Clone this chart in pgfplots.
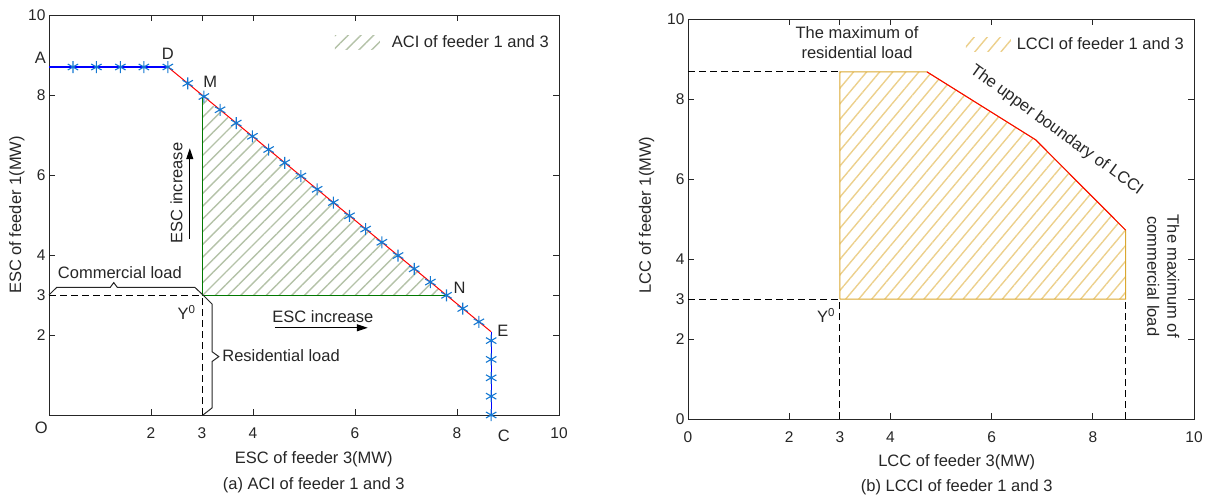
\documentclass[border=0pt]{standalone}
\usepackage{pgfplots}
\pgfplotsset{compat=1.18}
\usepackage{fontspec}
\setmainfont{Liberation Sans}
\usetikzlibrary{patterns.meta,arrows.meta}
\definecolor{hatchG}{RGB}{180,194,168}
\definecolor{edgeG}{RGB}{0,120,0}
\definecolor{hatchY}{RGB}{236,208,140}
\definecolor{edgeY}{RGB}{218,168,48}
\definecolor{starc}{RGB}{20,120,210}
\definecolor{axc}{RGB}{38,38,38}
\definecolor{bline}{RGB}{0,0,255}
\newcommand{\fs}{\fontsize{16.5}{20}\selectfont}
\pgfplotsset{
 mystyle/.style={
  scale only axis, height=400pt,
  xmin=0,xmax=10,ymin=0,ymax=10,
  axis line style={axc, line width=0.8pt},
  tick style={axc, line width=0.8pt},
  major tick length=6pt,
  tick align=inside,
  ticklabel style={font=\fontsize{15.5}{18}\selectfont, text=axc},
  xticklabel style={yshift=-9pt},
  /pgf/number format/assume math mode=true,
  clip=false,
  label style={font=\fs, text=axc},
  ylabel style={anchor=center, rotate=0},
  xlabel style={anchor=center},
  legend style={draw=none, fill=none, font=\fs, text=axc, anchor=east},
  legend cell align=left,
  every axis plot/.append style={line width=1pt},
 }
}
\begin{document}
\begin{tikzpicture}
\useasboundingbox (0,0) rectangle (1215pt,-498pt);
% ---------------- left ----------------
\begin{axis}[mystyle, width=510pt, at={(49pt,-415pt)}, anchor=south west,
  xtick={2,3,4,6,8,10}, ytick={2,3,4,6,8,10},
  xlabel={ESC of feeder 3(MW)}, ylabel={ESC of feeder 1(MW)},
  xlabel style={at={(axis description cs:0.519,-0.11)}},
  ylabel style={at={(axis description cs:-0.063,0.5)}},
  legend style={at={(axis description cs:0.99,0.9325)}},
]
\addplot[draw=none, pattern={Lines[angle=45,distance=9pt,line width=1.4pt]}, pattern color=hatchG,
  legend image code/.code={\fill[pattern={Lines[angle=45,distance=9pt,line width=1.4pt]}, pattern color=hatchG] (0pt,-7pt) rectangle (45pt,7pt); \path (55pt,0pt);}]
  coordinates {(3,3) (3,7.962) (7.795,2.993)} -- cycle;
\addlegendentry{ACI of feeder 1 and 3}
\addplot[edgeG, forget plot] coordinates {(3,7.962) (3,3) (7.795,3)};
% dashed
\addplot[black, dash pattern=on 7pt off 4pt, forget plot] coordinates {(0,3) (3,3)};
\addplot[black, dash pattern=on 7pt off 4pt, forget plot] coordinates {(3,0) (3,3)};
% braces
\addplot[axc, forget plot] coordinates {(0,3) (0.15,3.19) (1.2,3.19) (1.27,3.31) (1.34,3.19) (2.86,3.19) (3.02,3.0)};
\addplot[axc, forget plot] coordinates {(3.02,3) (3.2,2.77) (3.2,1.58) (3.33,1.46) (3.2,1.34) (3.2,0.18) (3.02,0)};
% boundary lines
\addplot[bline, line width=1.2pt, forget plot] coordinates {(0,8.7) (2.33,8.7)};
\addplot[red, forget plot] coordinates {(2.33,8.7) (8.67,2.08)};
\addplot[bline, line width=1.2pt, forget plot] coordinates {(8.67,2.08) (8.67,0)};
% stars
\addplot[only marks, mark=asterisk, mark size=6pt, starc, mark options={line width=1.1pt}, forget plot] coordinates {
 (0.47,8.7) (0.93,8.7) (1.40,8.7) (1.86,8.7) (2.33,8.7)
 (2.720,8.293) (3.037,7.962) (3.354,7.631) (3.672,7.299) (3.989,6.968)
 (4.306,6.637) (4.623,6.306) (4.940,5.975) (5.258,5.643) (5.575,5.312)
 (5.892,4.980) (6.209,4.649) (6.526,4.318) (6.844,3.987) (7.161,3.655)
 (7.478,3.324) (7.795,2.993) (8.112,2.662) (8.430,2.330)
 (8.67,1.86) (8.67,1.39) (8.67,0.93) (8.67,0.47) (8.67,0)
};
% arrows
\draw[black, line width=1.1pt, -{Triangle[length=11pt,width=7pt]}] (axis cs:2.76,4.4) -- (axis cs:2.76,6.67);
\draw[black, line width=1.1pt, -{Triangle[length=11pt,width=7pt]}] (axis cs:4.43,2.18) -- (axis cs:6.25,2.18);
% labels
\node[font=\fs, text=axc] at (axis cs:-0.17,8.94) {A};
\node[font=\fs, text=axc] at (axis cs:2.33,9.04) {D};
\node[font=\fs, text=axc] at (axis cs:3.16,8.33) {M};
\node[font=\fs, text=axc] at (axis cs:8.05,3.19) {N};
\node[font=\fs, text=axc] at (axis cs:8.9,2.1) {E};
\node[font=\fs, text=axc] at (axis cs:-0.15,-0.33) {O};
\node[font=\fs, text=axc] at (axis cs:8.92,-0.52) {C};
\node[font=\fs, text=axc] at (axis cs:2.7,2.57) {Y\textsuperscript{0}};
\node[font=\fs, text=axc] at (axis cs:1.39,3.55) {Commercial load};
\node[font=\fs, text=axc, anchor=west] at (axis cs:3.33,1.48) {Residential load};
\node[font=\fs, text=axc] at (axis cs:5.37,2.47) {ESC increase};
\node[font=\fs, text=axc, rotate=90] at (axis cs:2.5,5.55) {ESC increase};
\end{axis}
\node[font=\fs, text=axc] at (313.7pt,-485pt) {(a) ACI of feeder 1 and 3};
% ---------------- right ----------------
\begin{axis}[mystyle, width=506pt, at={(688pt,-419pt)}, anchor=south west,
  xtick={0,2,3,4,6,8,10}, ytick={0,2,3,4,6,8,10},
  xlabel={LCC of feeder 3(MW)}, ylabel={LCC of feeder 1(MW)},
  xlabel style={at={(axis description cs:0.531,-0.107)}},
  ylabel style={at={(axis description cs:-0.082,0.51)}},
  legend style={at={(axis description cs:0.99,0.9375)}},
]
\addplot[draw=none, pattern={Lines[angle=50,distance=10pt,line width=1.4pt]}, pattern color=hatchY,
  legend image code/.code={\fill[pattern={Lines[angle=50,distance=10pt,line width=1.4pt]}, pattern color=hatchY] (0pt,-7pt) rectangle (45pt,7pt); \path (49pt,0pt);}]
  coordinates {(3,3) (3,8.68) (4.72,8.68) (6.87,6.98) (8.65,4.72) (8.65,3)} -- cycle;
\addlegendentry{LCCI of feeder 1 and 3}
\addplot[edgeY, forget plot] coordinates {(3,3) (3,8.68) (4.72,8.68) (6.87,6.98) (8.65,4.72) (8.65,3) (3,3)};
\addplot[red, forget plot] coordinates {(4.72,8.68) (6.87,6.98) (8.65,4.72)};
\addplot[black, dash pattern=on 7pt off 4pt, forget plot] coordinates {(0,8.68) (3,8.68)};
\addplot[black, dash pattern=on 7pt off 4pt, forget plot] coordinates {(0,3) (3,3)};
\addplot[black, dash pattern=on 7pt off 4pt, forget plot] coordinates {(3,0) (3,3)};
\addplot[black, dash pattern=on 7pt off 4pt, forget plot] coordinates {(8.65,0) (8.65,3)};
\node[font=\fs, text=axc, align=center] at (axis cs:3.34,9.4) {The maximum of\\residential load};
\node[font=\fs, text=axc, rotate=-36] at (axis cs:7.28,7.22) {The upper boundary of LCCI};
\node[font=\fs, text=axc, align=center, rotate=-90] at (axis cs:9.39,3.57) {The maximum of\\commercial load};
\node[font=\fs, text=axc] at (axis cs:2.73,2.58) {Y\textsuperscript{0}};
\end{axis}
\node[font=\fs, text=axc] at (956.7pt,-487pt) {(b) LCCI of feeder 1 and 3};
\end{tikzpicture}
\end{document}
